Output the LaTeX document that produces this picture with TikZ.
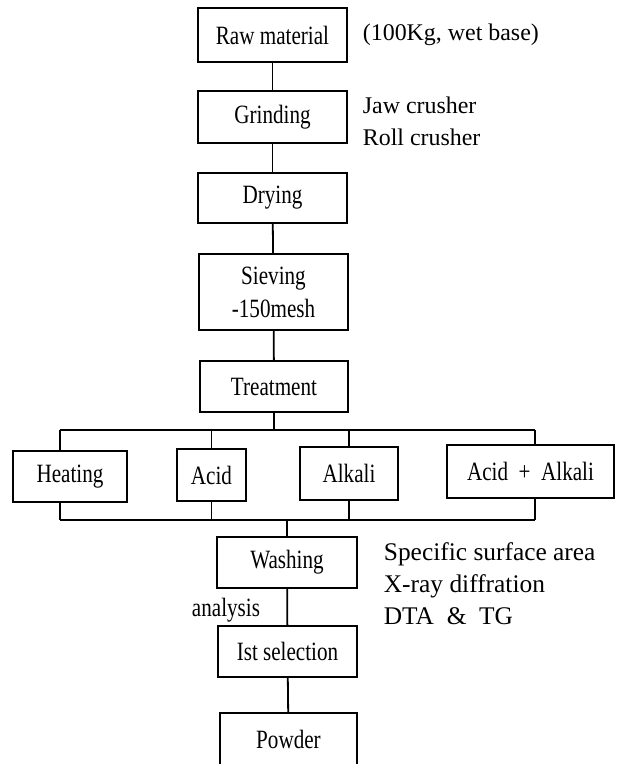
\documentclass[tikz,border=0pt]{standalone}
\usepackage{fontspec}
\setmainfont{Liberation Serif}
\newfontfamily\boxfont[FakeStretch=0.8]{Liberation Serif}
\usetikzlibrary{positioning}

\begin{document}
\begin{tikzpicture}[x=1bp,y=-1bp,line width=1.8bp,
  box/.style={draw,inner sep=0pt,align=center,font=\boxfont\fontsize{26.5}{33}\selectfont},
  note/.style={anchor=west,inner sep=0pt,align=left,font=\fontsize{24}{32}\selectfont}]
 \useasboundingbox (0,0) rectangle (617,764);
 % main line
 \node[box,minimum width=149bp,minimum height=54bp] (raw) at (272.5,35) {Raw material};
 \node[box,minimum width=149bp,minimum height=52bp] (grind) at (272.5,117) {Grinding};
 \node[box,minimum width=149bp,minimum height=50bp] (dry) at (272.5,198) {Drying};
 \node[box,minimum width=149bp,minimum height=76bp] (sieve) at (273.5,292) {Sieving\\-150mesh};
 \node[box,minimum width=148bp,minimum height=51bp] (treat) at (274,386.5) {Treatment};
 % treatments
 \node[box,minimum width=114bp,minimum height=51bp] (heat) at (70,476.5) {Heating};
 \node[box,minimum width=69bp,minimum height=52bp] (acid) at (211.5,475) {Acid};
 \node[box,minimum width=98bp,minimum height=53bp] (alkali) at (349,473.5) {Alkali};
 \node[box,minimum width=167bp,minimum height=53bp] (both) at (530.5,471.5) {Acid \ + \ Alkali};
 % after treatment
 \node[box,minimum width=140bp,minimum height=51bp] (wash) at (287,562.5) {Washing};
 \node[box,minimum width=139bp,minimum height=51bp] (select) at (287.5,651.5) {Ist selection};
 \node[box,minimum width=137bp,minimum height=53bp] (powder) at (288.5,739.5) {Powder};
 % notes
 \node[note] (wet) at (362,35) {(100Kg, wet base)};
 \node[note] (crush) at (362,121) {Jaw crusher\\Roll crusher};
 \node[note,font=\fontsize{25.5}{32}\selectfont] (props) at (383,584) {Specific surface area\\X-ray diffration\\DTA \ \& \ TG};
 \node[box,draw=none] (anal) at (226,610) {analysis};
 % connectors
 \draw (raw) -- (grind);
 \draw (grind) -- (dry);
 \draw (dry) -- (sieve);
 \draw (sieve) -- (treat);
 \coordinate (tl) at (60,430);
 \coordinate (tr) at (535,430);
 \coordinate (bl) at (60,520);
 \coordinate (br) at (535,520);
 \draw (treat) -- (treat |- tl);
 \draw (tl) -- (tr);
 \draw (bl) -- (br);
 \draw (tl) -- (tl |- heat.north);
 \draw (bl) -- (bl |- heat.south);
 \draw (acid.north) -- (acid.north |- tl);
 \draw (acid.south) -- (acid.south |- bl);
 \draw (alkali.north) -- (alkali.north |- tl);
 \draw (alkali.south) -- (alkali.south |- bl);
 \draw (tr) -- (tr |- both.north);
 \draw (br) -- (br |- both.south);
 \draw (wash) -- (wash |- bl);
 \draw (wash) -- (select);
 \draw (select) -- (powder);
\end{tikzpicture}
\end{document}
